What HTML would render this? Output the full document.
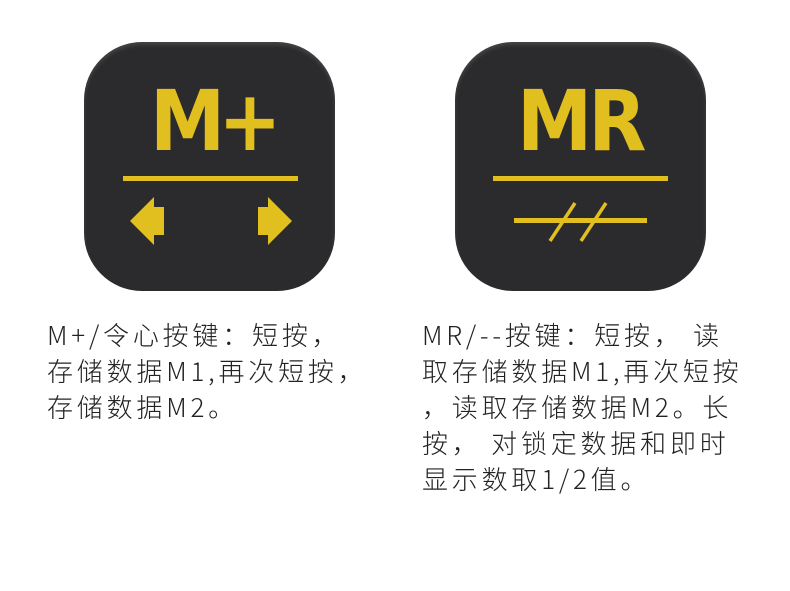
<!DOCTYPE html>
<html><head><meta charset="utf-8"><style>
body{margin:0;width:790px;height:591px;background:#fff;position:relative;overflow:hidden}
.box{position:absolute;top:42px;width:251px;height:249px;border-radius:58px;background:#2b2a2d;box-shadow:inset 0 3px 4px rgba(255,255,255,0.12)}
.big{position:absolute;font-family:"DejaVu Sans Condensed","Liberation Sans",sans-serif;font-weight:bold;color:#e1bf1f;font-size:84px;line-height:1}
.bar{position:absolute;height:5px;background:#e1bf1f}
.t{position:absolute;font-family:"Noto Sans CJK SC",sans-serif;font-size:26px;letter-spacing:3.8px;line-height:36px;color:#222;white-space:nowrap;font-weight:300}
</style></head><body>
<div class="box" style="left:84px"></div>
<div class="box" style="left:455px"></div>
<div class="big" style="left:150px;top:79px;letter-spacing:-7px">M+</div>
<div class="bar" style="left:123px;top:176px;width:175px"></div>
<svg style="position:absolute;left:0;top:0" width="790" height="300">
<polygon points="130,221 154,197 154,207 164,207 164,235 154,235 154,245" fill="#e1bf1f"/>
<polygon points="292,221 268,197 268,207 258,207 258,235 268,235 268,245" fill="#e1bf1f"/>
<rect x="514" y="218" width="133" height="5" fill="#e1bf1f"/>
<line x1="550" y1="241" x2="575" y2="203" stroke="#e1bf1f" stroke-width="3.5"/>
<line x1="581" y1="241" x2="606" y2="203" stroke="#e1bf1f" stroke-width="3.5"/>
</svg>
<div class="big" style="left:517px;top:79px;letter-spacing:-4px">MR</div>
<div class="bar" style="left:493px;top:176px;width:175px"></div>
<div class="t" style="left:47px;top:317px">M+/令心按键：短按，<br>存储数据M1,再次短按，<br>存储数据M2。</div>
<div class="t" style="left:422px;top:317px">MR/--按键：短按， 读<br>取存储数据M1,再次短按<br>，读取存储数据M2。长<br>按， 对锁定数据和即时<br>显示数取1/2值。</div>
</body></html>
